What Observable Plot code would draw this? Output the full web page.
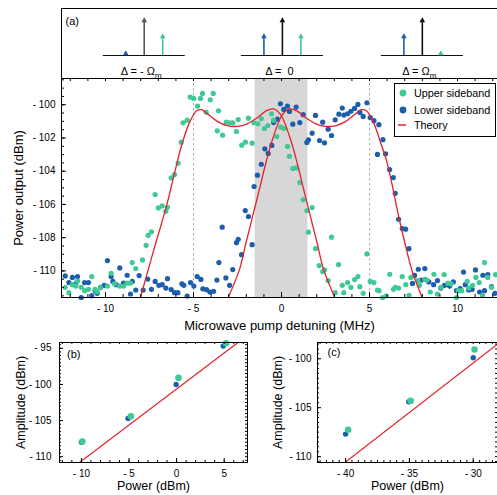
<!DOCTYPE html>
<html><head><meta charset="utf-8">
<script src="https://cdn.jsdelivr.net/npm/d3@7"></script>
<script src="https://cdn.jsdelivr.net/npm/@observablehq/plot@0.6"></script>
<style>
body{margin:0;background:#fff;}
#chart{position:relative;width:497px;height:495px;overflow:hidden;background:#fff;font-family:"Liberation Sans",Arial,sans-serif;}
#chart > *{position:absolute;}
</style></head><body><div id="chart"></div>
<script>
const GREEN = "#3fc995", BLUE = "#1b5eae", RED = "#e3222b";

// ---------- main panel data (MHz, dBm) ----------
const upperX = [-12.29,-12.08,-11.88,-11.69,-11.59,-11.38,-11.19,-10.97,-10.78,-10.59,-10.47,-10.28,-9.89,-9.68,-9.49,-9.19,-8.98,-8.77,-8.58,-8.48,-8.28,-7.90,-7.69,-7.58,-7.39,-7.18,-7.00,-6.78,-6.57,-6.48,-6.27,-6.08,-5.87,-5.70,-5.59,-5.36,-5.19,-4.99,-4.77,-4.60,-4.49,-4.28,-4.05,-3.88,-3.65,-3.58,-3.35,-3.14,-2.94,-2.77,-2.56,-2.46,-2.26,-2.05,-1.88,-1.67,-1.57,-1.34,-1.15,-0.97,-0.78,-0.57,-0.45,-0.27,-0.04,0.15,0.34,0.45,0.64,0.83,1.04,1.23,1.44,1.53,1.74,1.93,2.14,2.34,2.44,2.65,2.84,3.05,3.24,3.45,3.54,3.75,3.94,4.15,4.34,4.45,4.64,4.85,5.04,5.25,5.45,5.54,5.74,5.95,6.15,6.36,6.46,6.65,6.86,7.06,7.24,7.35,7.75,7.84,8.14,8.26,8.45,8.66,8.86,9.05,9.24,9.45,9.64,9.94,10.04,10.24,10.55,10.64,10.85,11.04,11.23,11.42,11.53,11.72,11.93,12.16];
const upperY = [-110.99,-111.31,-110.83,-110.91,-110.61,-110.99,-111.19,-111.11,-110.34,-111.11,-111.25,-111.0,-110.91,-110.14,-110.78,-110.91,-110.91,-110.74,-110.74,-109.50,-109.86,-109.34,-108.46,-107.86,-107.65,-105.40,-106.21,-106.09,-106.41,-106.17,-104.40,-104.20,-103.52,-102.25,-101.09,-100.93,-99.54,-99.62,-100.08,-99.62,-99.32,-100.45,-99.70,-99.32,-101.57,-100.36,-101.83,-101.05,-101.09,-101.09,-101.61,-100.89,-102.43,-102.25,-100.81,-102.31,-101.09,-101.15,-100.83,-101.43,-101.25,-100.54,-100.93,-101.91,-101.35,-101.43,-102.51,-103.10,-103.84,-103.80,-104.68,-105.72,-106.37,-107.67,-106.19,-108.66,-109.68,-110.04,-109.94,-110.58,-107.97,-111.31,-109.62,-110.87,-111.31,-110.70,-110.99,-110.52,-110.34,-110.95,-111.35,-108.98,-110.63,-110.70,-111.15,-111.19,-111.6,-111.51,-110.20,-111.11,-110.99,-111.03,-110.34,-110.83,-111.47,-110.39,-110.58,-110.87,-110.51,-110.55,-111.27,-110.20,-111.39,-110.99,-110.22,-110.74,-110.78,-111.6,-111.19,-111.19,-110.63,-111.03,-110.87,-110.39,-110.70,-111.47,-109.50,-110.39,-110.99,-110.22];
const lowerX = [-12.29,-12.08,-11.88,-11.69,-11.59,-11.38,-11.19,-10.97,-10.78,-10.59,-10.47,-10.28,-10.07,-9.89,-9.68,-9.58,-9.40,-9.19,-8.98,-8.77,-8.58,-8.48,-8.28,-8.09,-7.86,-7.60,-7.39,-7.18,-6.97,-6.78,-6.57,-6.48,-6.27,-6.08,-5.89,-5.66,-5.55,-5.36,-5.17,-4.98,-4.79,-4.58,-4.47,-4.26,-4.07,-3.86,-3.67,-3.56,-3.37,-3.16,-2.95,-2.77,-2.56,-2.46,-2.27,-2.06,-1.88,-1.67,-1.56,-1.37,-1.15,-0.95,-0.76,-0.55,-0.45,-0.24,-0.06,0.13,0.34,0.45,0.64,0.83,1.04,1.23,1.44,1.53,1.74,1.93,2.16,2.34,2.44,2.65,2.84,3.05,3.26,3.45,3.54,3.75,3.94,4.15,4.34,4.45,4.64,4.85,5.04,5.25,5.45,5.53,5.76,5.91,6.14,6.35,6.46,6.65,6.86,7.05,7.24,7.44,7.56,7.77,7.95,8.14,8.37,8.64,8.86,9.05,9.26,9.55,9.76,9.94,10.15,10.34,10.44,10.63,10.83,11.02,11.25,11.44,11.53,11.72,11.93,12.12];
const lowerY = [-110.30,-110.70,-110.39,-110.78,-110.34,-111.6,-110.70,-110.70,-111.49,-111.19,-111.35,-110.99,-110.87,-109.38,-110.34,-110.63,-110.83,-109.82,-110.74,-110.26,-111.39,-110.63,-111.15,-110.28,-111.15,-110.49,-111.11,-110.63,-110.87,-110.83,-111.03,-110.47,-111.12,-111.31,-111.31,-110.78,-110.87,-111.51,-110.70,-110.91,-110.34,-110.51,-111.08,-111.13,-111.27,-111.23,-110.55,-109.50,-107.37,-110.42,-110.87,-109.92,-108.30,-108.10,-109.02,-106.37,-106.73,-108.42,-104.92,-104.24,-103.58,-102.65,-102.93,-102.45,-101.07,-100.87,-99.94,-100.28,-100.08,-100.40,-101.17,-100.14,-101.07,-100.60,-102.27,-102.11,-101.71,-100.64,-102.15,-101.05,-102.29,-101.47,-101.85,-100.91,-100.57,-100.20,-100.62,-100.54,-100.39,-100.22,-99.98,-100.46,-100.70,-99.88,-100.77,-100.96,-102.99,-101.2,-102.1,-102.95,-103.90,-104.38,-105.33,-106.89,-107.45,-107.49,-108.66,-110.75,-110.27,-109.90,-110.55,-109.86,-110.66,-110.83,-110.58,-111.03,-110.87,-110.91,-110.66,-111.19,-111.07,-110.07,-110.83,-111.15,-111.11,-109.94,-111.27,-110.26,-111.19,-110.22,-110.95,-111.35];
const theoryUpX = [-8.15,-7.3,-6.5,-6.1,-5.65,-5.2,-4.8,-4.55,-4.2,-3.65,-3.1,-2.5,-1.95,-1.4,-0.85,-0.45,-0.05,0.5,0.9,1.27,1.65,2.03,2.4,3.2];
const theoryUpY = [-112.1,-108.9,-105.95,-104.2,-102.35,-101.0,-100.35,-100.3,-100.55,-101.0,-101.25,-101.3,-101.15,-100.8,-100.35,-100.25,-100.6,-102.05,-103.55,-105.15,-106.75,-108.35,-109.95,-112.0];
const theoryLowX = [-3.2,-2.4,-2.03,-1.65,-1.27,-0.9,-0.5,0.05,0.45,0.85,1.4,1.95,2.5,3.1,3.65,4.2,4.55,4.8,5.2,5.65,5.95,6.3,6.67,7.05,7.45,8.3];
const theoryLowY = [-112.0,-109.95,-108.35,-106.75,-105.15,-103.55,-102.05,-100.6,-100.25,-100.35,-100.8,-101.15,-101.3,-101.25,-101.0,-100.55,-100.3,-100.35,-101.0,-102.35,-103.3,-104.9,-106.8,-108.5,-110.1,-112.4];
const bandX = [-1.5, 1.5];
const dashedX = [-5, 5];

// ---------- panel (a) schematic ----------
const diagramCenter = [-7.8, 0.05, 8.0];
const diagramLabel = ["Δ = - Ω", "Δ =  0", "Δ = Ω"];
const carrierHeight = [38, 38, 38];
const carrierColor = ["#555", "#111", "#111"];
const lowerSbHeight = [5, 22, 22];
const upperSbHeight = [22, 22, 5];
const sbOffset = 1.05, baseHalf = 2.33;

// ---------- panels (b), (c) ----------
const bLowX = [-10.0, -5.1, -0.05, 4.9], bLowY = [-108.0, -104.7, -100.0, -94.7];
const bUpX = [-9.9, -4.8, 0.2, 5.2],     bUpY = [-107.9, -104.4, -99.1, -94.3];
const bThX = [-10.2, 6.45],              bThY = [-110.8, -94.2];
const cLowX = [-40.0, -35.05, -30.0],    cLowY = [-107.7, -104.4, -99.9];
const cUpX = [-39.8, -34.9, -29.9],      cUpY = [-107.25, -104.3, -99.05];
const cThX = [-40.05, -28.1],            cThY = [-110.6, -98.5];

const zip = (xs, ys) => xs.map((x, i) => ({x, y: ys[i]}));
const fmt = d => d < 0 ? "- " + Math.abs(d) : String(d);
const STYLE = {fontFamily: "'Liberation Sans', Arial, sans-serif", fontSize: "10px", background: "transparent", color: "#000"};
const chart = document.getElementById("chart");
function place(el, left, top) { el.style.left = left + "px"; el.style.top = top + "px"; chart.appendChild(el); return el; }

function inTicks(values, side, len, pw, ph) {
  const o = {stroke: "#000", strokeWidth: 1};
  if (side === "bottom") return Plot.ruleX(values, {...o, insetTop: ph - len});
  if (side === "top") return Plot.ruleX(values, {...o, insetBottom: ph - len});
  if (side === "left") return Plot.ruleY(values, {...o, insetRight: pw - len});
  return Plot.ruleY(values, {...o, insetLeft: pw - len});
}

// ----- panel (a) -----
const xDomain = [-12.5, 12.27];
const diagrams = diagramCenter.map((c, i) => ({c, label: diagramLabel[i]}));
const arrows = diagramCenter.flatMap((c, i) => [
  {x: c, h: carrierHeight[i], color: carrierColor[i]},
  {x: c - sbOffset, h: lowerSbHeight[i], color: BLUE},
  {x: c + sbOffset, h: upperSbHeight[i], color: GREEN}
]);
const aPlot = Plot.plot({
  width: 497, height: 79, marginLeft: 61, marginRight: 0, marginTop: 8, marginBottom: 1,
  x: {domain: xDomain, axis: null}, y: {domain: [-23, 47], axis: null},
  color: {type: "identity"}, style: STYLE,
  marks: [
    Plot.frame({stroke: "#000"}),
    Plot.ruleY(diagrams, {y: 0, x1: d => d.c - baseHalf, x2: d => d.c + baseHalf, stroke: "#111", strokeWidth: 1.2}),
    Plot.ruleX(arrows, {x: "x", y1: 0, y2: d => Math.max(0, d.h - 3), stroke: "color", strokeWidth: 1.6}),
    Plot.dot(arrows, {x: "x", y: d => d.h - 3.1, symbol: "triangle", r: 2.1, fill: "color", stroke: null}),
    Plot.text(diagrams, {x: "c", y: -16, text: "label", fontSize: 11, dx: -3}),
    Plot.text(["(a)"], {frameAnchor: "top-left", dx: 4, dy: 13, fontSize: 11, textAnchor: "start", lineAnchor: "middle"})
  ]
});
d3.select(aPlot).selectAll("text").each(function() {
  if (this.textContent.endsWith("Ω")) d3.select(this).append("tspan").attr("font-size", 8).attr("dy", 3).text("m");
});
place(aPlot, 0, 0);

// ----- main panel -----
{
  const pw = 436, ph = 219;
  const mainPlot = Plot.plot({
    width: 497, height: 265, marginLeft: 61, marginRight: 0, marginTop: 8, marginBottom: 38,
    x: {domain: xDomain}, y: {domain: [-111.6, -98.42]}, style: STYLE,
    marks: [
      Plot.rect([bandX], {x1: d => d[0], x2: d => d[1], fill: "#d7d7d7"}),
      Plot.ruleX(dashedX, {stroke: "#b0b0b0", strokeDasharray: "2.5,2.5"}),
      Plot.dot(zip(lowerX, lowerY), {x: "x", y: "y", r: 2.6, fill: BLUE}),
      Plot.dot(zip(upperX, upperY), {x: "x", y: "y", r: 2.6, fill: GREEN}),
      Plot.line(zip(theoryUpX, theoryUpY), {x: "x", y: "y", stroke: RED, strokeWidth: 1.3, curve: "catmull-rom", clip: true}),
      Plot.line(zip(theoryLowX, theoryLowY), {x: "x", y: "y", stroke: RED, strokeWidth: 1.3, curve: "catmull-rom", clip: true}),
      inTicks(d3.range(-12, 13, 1), "bottom", 3, pw, ph),
      inTicks([-10, -5, 0, 5, 10], "bottom", 5, pw, ph),
      inTicks(d3.range(-12, 13, 1), "top", 3, pw, ph),
      inTicks(d3.range(-111.5, -98.4, 0.5), "left", 3, pw, ph),
      inTicks(d3.range(-110, -98.4, 2), "left", 5, pw, ph),
      Plot.axisX([-10, -5, 0, 5, 10], {tickSize: 0, tickPadding: 7, tickFormat: fmt, label: null, fontSize: 10}),
      Plot.axisY([-110, -108, -106, -104, -102, -100], {tickSize: 0, tickPadding: 6, tickFormat: fmt, label: null, fontSize: 10}),
      Plot.text(["Microwave pump detuning (MHz)"], {frameAnchor: "bottom", dy: 28, lineAnchor: "middle", fontSize: 13}),
      Plot.text(["Power output (dBm)"], {frameAnchor: "left", dx: -43, rotate: -90, textAnchor: "middle", lineAnchor: "middle", fontSize: 13}),
      Plot.frame({stroke: "#000"})
    ]
  });
  place(mainPlot, 0, 70);
}

// ----- legend -----
const legendLabels = ["Upper sideband", "Lower sideband", "Theory"];
const legendColors = [GREEN, BLUE, RED];
const legendKinds = ["dot", "dot", "line"];
{
  const svg = d3.create("svg").attr("width", 103).attr("height", 56);
  svg.append("rect").attr("x", 0.5).attr("y", 0.5).attr("width", 101).attr("height", 53)
    .attr("fill", "#fff").attr("stroke", "#000").attr("stroke-width", 1);
  const rows = [10, 27, 42];
  legendLabels.forEach((lab, i) => {
    if (legendKinds[i] === "dot") svg.append("circle").attr("cx", 9).attr("cy", rows[i]).attr("r", 3.4).attr("fill", legendColors[i]);
    else svg.append("line").attr("x1", 4).attr("x2", 12).attr("y1", rows[i]).attr("y2", rows[i]).attr("stroke", legendColors[i]).attr("stroke-width", 1.5);
    svg.append("text").attr("x", 20).attr("y", rows[i]).attr("dy", "0.35em")
      .attr("font-family", "'Liberation Sans', Arial, sans-serif").attr("font-size", 10.8).text(lab);
  });
  place(svg.node(), 394, 83);
}

// ----- bottom panels -----
function smallPanel(o) {
  const pw = o.width - o.mL - o.mR, ph = 120;
  return Plot.plot({
    width: o.width, height: 165, marginLeft: o.mL, marginRight: o.mR, marginTop: 12, marginBottom: 33,
    x: {domain: o.xDomain}, y: {domain: o.yDomain}, style: STYLE,
    marks: [
      Plot.line(zip(o.thX, o.thY), {x: "x", y: "y", stroke: RED, strokeWidth: 1.2, clip: true}),
      Plot.dot(zip(o.lowX, o.lowY), {x: "x", y: "y", r: 2.7, fill: BLUE}),
      Plot.dot(zip(o.upX, o.upY), {x: "x", y: "y", r: 3.3, fill: GREEN}),
      inTicks(o.xMinor, "bottom", 2, pw, ph),
      inTicks(o.xMajor, "bottom", 4, pw, ph),
      inTicks(o.xMinor, "top", 2, pw, ph),
      inTicks(o.yMinor, "left", 2, pw, ph),
      inTicks(o.yMajor, "left", 4, pw, ph),
      inTicks(o.yMinor, "right", 2, pw, ph),
      Plot.axisX(o.xMajor, {tickSize: 0, tickPadding: 7, tickFormat: fmt, label: null, fontSize: 10}),
      Plot.axisY(o.yMajor, {tickSize: 0, tickPadding: o.yPad, tickFormat: fmt, label: null, fontSize: 10}),
      Plot.text(["Power (dBm)"], {frameAnchor: "bottom", dy: 23, lineAnchor: "middle", fontSize: 12.5}),
      Plot.text(["Amplitude (dBm)"], {frameAnchor: "left", dx: o.yTitleDx, rotate: -90, textAnchor: "middle", lineAnchor: "middle", fontSize: 12.5}),
      Plot.text([o.tag], {frameAnchor: "top-left", dx: o.tagDx, dy: o.tagDy, fontSize: 11, textAnchor: "start", lineAnchor: "middle"}),
      Plot.frame({stroke: "#000"})
    ]
  });
}
place(smallPanel({
  width: 250, mL: 59, mR: 3, xDomain: [-12.3, 7.45], yDomain: [-110.8, -94.2],
  xMajor: [-10, -5, 0, 5], xMinor: d3.range(-12, 8, 1), yMajor: [-110, -105, -100, -95], yMinor: d3.range(-110.5, -94.2, 0.5),
  lowX: bLowX, lowY: bLowY, upX: bUpX, upY: bUpY, thX: bThX, thY: bThY,
  tag: "(b)", tagDx: 7.5, tagDy: 12, yPad: 8, yTitleDx: -39
}), 0, 330);
place(smallPanel({
  width: 247, mL: 67, mR: 0, xDomain: [-42.2, -28.1], yDomain: [-110.6, -98.34],
  xMajor: [-40, -35, -30], xMinor: d3.range(-42, -28.1, 0.5), yMajor: [-110, -105, -100], yMinor: d3.range(-110.5, -98.34, 0.5),
  lowX: cLowX, lowY: cLowY, upX: cUpX, upY: cUpY, thX: cThX, thY: cThY,
  tag: "(c)", tagDx: 10, tagDy: 10, yPad: 6, yTitleDx: -40
}), 250, 330);
</script></body></html>
